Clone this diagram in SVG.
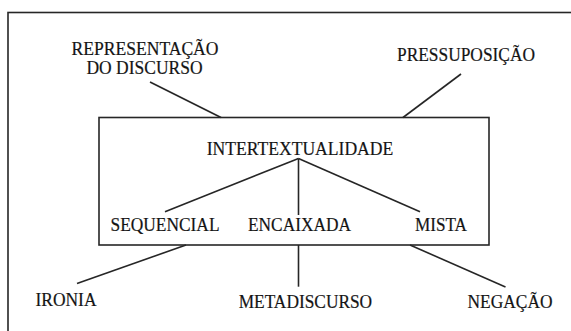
<svg xmlns="http://www.w3.org/2000/svg" width="571" height="331" viewBox="0 0 571 331">
<style>
.t{font-family:"Liberation Serif","Times New Roman",serif;font-size:18.6px;fill:#141414;text-anchor:middle;stroke:#141414;stroke-width:0.2}
.l{stroke:#262626;stroke-width:1.6;fill:none}
</style>
<rect width="571" height="331" fill="#fff"/>
<rect x="8" y="12.5" width="600" height="400" class="l"/>
<g id="box"><rect x="99" y="117.5" width="390" height="127.5" class="l"/></g>
<g id="connectors">
<line class="l" x1="150" y1="82" x2="221" y2="117.5"/>
<line class="l" x1="461" y1="74" x2="403" y2="117.5"/>
<line class="l" x1="298.5" y1="158.5" x2="165" y2="211.7"/>
<line class="l" x1="298.5" y1="158.5" x2="298.5" y2="215"/>
<line class="l" x1="298.5" y1="158.5" x2="420" y2="211.7"/>
<line class="l" x1="186" y1="245" x2="77" y2="283.5"/>
<line class="l" x1="298.5" y1="245" x2="298.5" y2="286.7"/>
<line class="l" x1="410" y1="245" x2="505.5" y2="287"/>
</g>
<g id="representacao"><text class="t" x="145" y="55" textLength="147" lengthAdjust="spacingAndGlyphs">REPRESENTAÇÃO</text><text class="t" x="144.5" y="73.5" textLength="116" lengthAdjust="spacingAndGlyphs">DO DISCURSO</text></g>
<g id="pressuposicao"><text class="t" x="466" y="60.5" textLength="138" lengthAdjust="spacingAndGlyphs">PRESSUPOSIÇÃO</text></g>
<g id="intertextualidade"><text class="t" x="300" y="155.3" textLength="186.5" lengthAdjust="spacingAndGlyphs">INTERTEXTUALIDADE</text></g>
<g id="sequencial"><text class="t" x="165" y="230.8" textLength="109" lengthAdjust="spacingAndGlyphs">SEQUENCIAL</text></g>
<g id="encaixada"><text class="t" x="299.5" y="230.8" textLength="103" lengthAdjust="spacingAndGlyphs">ENCAIXADA</text></g>
<g id="mista"><text class="t" x="441" y="230.8" textLength="52" lengthAdjust="spacingAndGlyphs">MISTA</text></g>
<g id="ironia"><text class="t" x="66" y="306.3" textLength="61" lengthAdjust="spacingAndGlyphs">IRONIA</text></g>
<g id="metadiscurso"><text class="t" x="305.4" y="308.3" textLength="133.5" lengthAdjust="spacingAndGlyphs">METADISCURSO</text></g>
<g id="negacao"><text class="t" x="510" y="308.3" textLength="85" lengthAdjust="spacingAndGlyphs">NEGAÇÃO</text></g>
</svg>
